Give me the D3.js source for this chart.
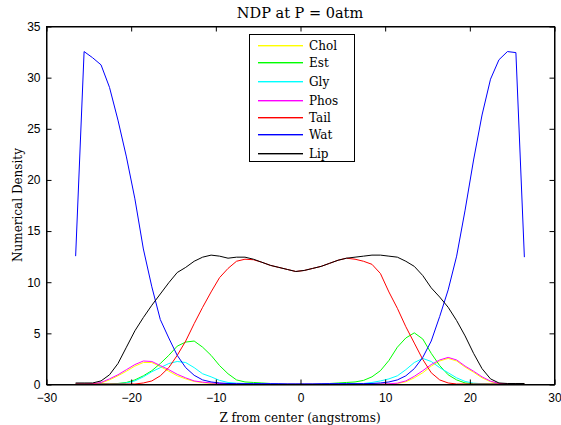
<!DOCTYPE html>
<html>
<head>
<meta charset="utf-8">
<script src="https://cdn.jsdelivr.net/npm/d3@7"></script>
<style>
  html, body { margin: 0; padding: 0; background: #fff; }
  svg { display: block; }
</style>
</head>
<body>
<svg id="chart" width="561" height="425"></svg>
<script>
// ---- data ----
const title = "NDP at P = 0atm";
const xLabel = "Z from center (angstroms)";
const yLabel = "Numerical Density";
const xTicks = [-30, -20, -10, 0, 10, 20, 30];
const yTicks = [0, 5, 10, 15, 20, 25, 30, 35];
const seriesNames = ["Chol", "Est", "Gly", "Phos", "Tail", "Wat", "Lip"];
const seriesColors = ["#ffff00", "#00ff00", "#00ffff", "#ff00ff", "#ff0000", "#0000ff", "#000000"];

const z = [-26.5,-25.5,-24.5,-23.5,-22.5,-21.5,-20.5,-19.5,-18.5,-17.5,-16.5,-15.5,-14.5,-13.5,-12.5,-11.5,-10.5,-9.5,-8.5,-7.5,-6.5,-5.5,-4.5,-3.5,-2.5,-1.5,-0.5,
           0.5,1.5,2.5,3.5,4.5,5.5,6.5,7.5,8.5,9.5,10.5,11.5,12.5,13.5,14.5,15.5,16.5,17.5,18.5,19.5,20.5,21.5,22.5,23.5,24.5,25.5,26.5];

const chol = [0,0,0.02,0.1,0.4,0.8,1.25,1.75,2.1,2.1,1.7,1.25,0.8,0.5,0.25,0.13,0.06,0.03,0.01,0,0,0,0,0,0,0,0,
              0,0,0,0,0,0,0,0,0,0,0.01,0.05,0.22,0.6,1.1,1.75,2.25,2.5,2.25,1.65,1.15,0.6,0.22,0.04,0.01,0,0];
const est  = [0,0,0,0,0,0.05,0.15,0.4,0.8,1.3,2.0,2.8,3.7,4.1,4.2,3.6,2.8,1.8,1.0,0.4,0.2,0.15,0.1,0.05,0.02,0,0,
              0,0,0.02,0.05,0.1,0.15,0.2,0.35,0.7,1.3,2.3,3.6,4.5,5.0,4.4,3.0,1.8,0.9,0.4,0.1,0.03,0,0,0,0,0,0];
const gly  = [0,0,0,0,0,0.03,0.1,0.3,0.7,1.2,1.6,2.0,2.2,2.1,1.6,1.0,0.7,0.35,0.15,0.08,0.05,0.05,0.05,0.05,0.02,0,0,
              0,0,0,0.02,0.05,0.05,0.05,0.05,0.15,0.3,0.5,0.8,1.4,2.1,2.5,2.2,1.6,1.1,0.6,0.25,0.08,0.03,0,0,0,0,0];
const phos = [0,0,0.03,0.15,0.5,0.9,1.4,1.9,2.25,2.2,1.8,1.4,0.95,0.6,0.3,0.18,0.1,0.05,0.02,0.01,0,0,0,0,0,0,0,
              0,0,0,0,0,0,0,0,0,0,0.02,0.08,0.3,0.75,1.3,1.9,2.35,2.6,2.35,1.75,1.25,0.7,0.28,0.05,0.01,0,0];
const tail = [0,0,0,0,0,0,0,0,0.1,0.3,0.8,1.6,2.8,4.2,5.9,7.5,9.0,10.4,11.3,12.0,12.2,12.15,11.9,11.6,11.4,11.2,11.0,
              11.1,11.3,11.5,11.8,12.1,12.3,12.2,12.0,11.7,10.8,9.0,7.4,5.6,4.0,2.4,1.1,0.4,0.1,0,0,0,0,0,0,0,0,0];
const wat  = [12.5,32.5,31.9,31.2,29.0,25.8,22.2,18.1,13.2,9.5,6.3,4.5,2.8,1.6,0.85,0.4,0.2,0.1,0.05,0.03,0.03,0.03,0.03,0.03,0.02,0,0,
              0,0,0.02,0.03,0.03,0.03,0.03,0.03,0.05,0.1,0.2,0.4,0.8,1.5,2.6,4.2,6.6,9.2,12.5,17.0,21.9,26.3,29.8,31.7,32.5,32.4,12.4];
const lip  = [0.1,0.1,0.1,0.3,0.9,2.0,3.6,5.2,6.5,7.7,8.8,9.9,10.9,11.4,12.0,12.4,12.6,12.5,12.3,12.4,12.4,12.2,11.9,11.6,11.4,11.2,11.0,
              11.1,11.3,11.5,11.8,12.1,12.3,12.4,12.5,12.6,12.6,12.5,12.4,12.0,11.5,10.6,9.4,8.5,7.5,6.2,4.7,3.0,1.5,0.5,0.1,0.05,0.05,0.05];

const seriesValues = [chol, est, gly, phos, tail, wat, lip];

// ---- layout ----
const svg = d3.select("#chart");
const L = 46, R = 554, T = 26, B = 384;
const x = d3.scaleLinear().domain([-30, 30]).range([L, R]);
const y = d3.scaleLinear().domain([0, 35]).range([B, T]);

const serif = "'DejaVu Serif', serif";
const sans = "'Liberation Sans', Arial, sans-serif";

// data lines
const lineGen = d3.line().x((d, i) => x(z[i])).y(d => y(d));
const plot = svg.append("g");
seriesValues.forEach((vals, k) => {
  plot.append("path")
    .datum(vals)
    .attr("d", lineGen)
    .attr("fill", "none")
    .attr("stroke", seriesColors[k])
    .attr("stroke-width", 1);
});

// axes (ticks inward, MATLAB style)
const axG = svg.append("g").attr("transform", "translate(0.5,0.5)");
const axBottom = axG.append("g").attr("transform", `translate(0,${B})`)
  .call(d3.axisBottom(x).tickValues(xTicks).tickSizeInner(-5).tickSizeOuter(0).tickPadding(9));
const axTop = axG.append("g").attr("transform", `translate(0,${T})`)
  .call(d3.axisTop(x).tickValues(xTicks).tickSizeInner(-5).tickSizeOuter(0).tickFormat(""));
const axLeft = axG.append("g").attr("transform", `translate(${L},0)`)
  .call(d3.axisLeft(y).tickValues(yTicks).tickSizeInner(-5).tickSizeOuter(0).tickPadding(6));
const axRight = axG.append("g").attr("transform", `translate(${R},0)`)
  .call(d3.axisRight(y).tickValues(yTicks).tickSizeInner(-5).tickSizeOuter(0).tickFormat(""));

[axBottom, axTop, axLeft, axRight].forEach(g => {
  g.selectAll("path.domain").attr("stroke", "#000");
  g.selectAll(".tick line").attr("stroke", "#000");
  g.selectAll(".tick text").attr("font-family", sans).attr("font-size", 12).attr("fill", "#000");
});
axG.append("rect").attr("x", L).attr("y", T).attr("width", R - L).attr("height", B - T)
  .attr("fill", "none").attr("stroke", "#000");

// title & labels
svg.append("text").attr("x", 300).attr("y", 18).attr("text-anchor", "middle")
  .attr("font-family", serif).attr("font-size", 14.5).text(title);
svg.append("text").attr("x", 300).attr("y", 422).attr("text-anchor", "middle")
  .attr("font-family", serif).attr("font-size", 12).text(xLabel);
svg.append("text").attr("transform", "translate(22,205) rotate(-90)").attr("text-anchor", "middle")
  .attr("font-family", serif).attr("font-size", 12).text(yLabel);

// legend
const lg = svg.append("g");
lg.append("rect").attr("x", 249.5).attr("y", 34.5).attr("width", 105).attr("height", 127)
  .attr("fill", "#fff").attr("stroke", "#000");
const legendRows = [45, 62, 81, 100, 117, 134, 153];
seriesNames.forEach((name, k) => {
  const yy = legendRows[k];
  lg.append("rect").attr("x", 258).attr("y", yy).attr("width", 45).attr("height", 1.4)
    .attr("fill", seriesColors[k]);
  lg.append("text").attr("x", 309).attr("y", yy + 4.5).attr("font-family", serif)
    .attr("font-size", 12).attr("fill", "#000").text(name);
});
</script>
</body>
</html>
